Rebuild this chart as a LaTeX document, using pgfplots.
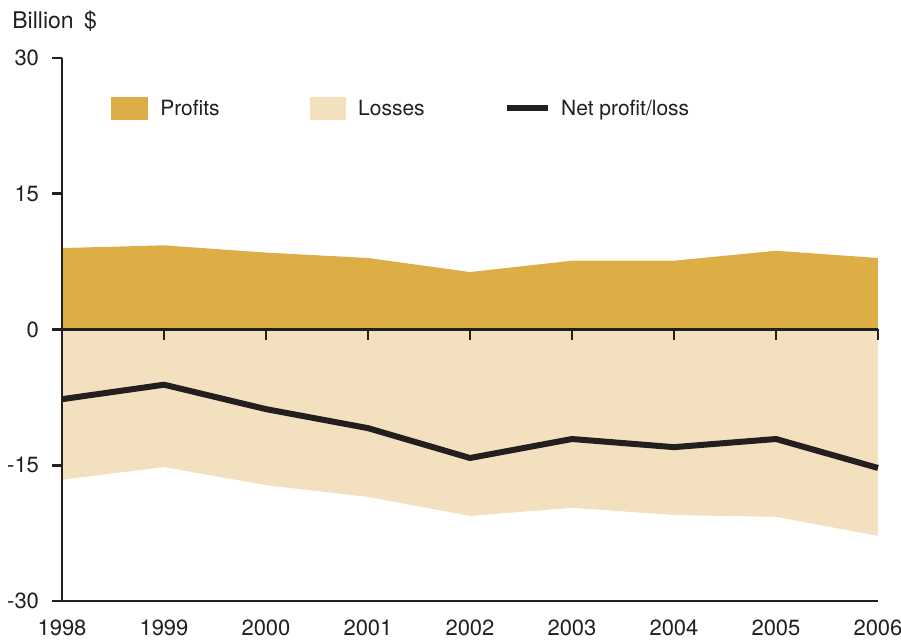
\documentclass[border=0pt]{standalone}
\usepackage{pgfplots}
\pgfplotsset{compat=1.18}
\usepackage{fontspec}
\setmainfont{TeX Gyre Heros}
\definecolor{profit}{HTML}{DDAE45}
\definecolor{loss}{HTML}{F3E0BE}
\definecolor{netc}{HTML}{231F20}
\begin{document}
\begin{tikzpicture}
\path[use as bounding box] (-31bp,-19.5bp) rectangle (419.5bp,300.5bp);
\node[anchor=base west,font=\fontsize{11.5bp}{13bp}\selectfont,text=netc,inner sep=0] at (-25bp,286bp) {Billion\hspace{0.45em}\$};
\begin{axis}[at={(0,0)}, anchor=south west, scale only axis,
  width=408bp, height=271.5bp,
  xmin=1998, xmax=2006, ymin=-30, ymax=30,
  axis lines=left,
  axis line style={line width=1.4bp, -, draw=netc},
  axis on top,
  xtick={1998,1999,2000,2001,2002,2003,2004,2005,2006},
  xticklabels={1998,1999,2000,2001,2002,2003,2004,2005,2006},
  x tick style={draw=none},
  ytick={-30,-15,0,15,30},
  yticklabels={-30,-15,0,15,30},
  y tick style={line width=1.4bp, draw=netc},
  tick align=outside,
  major tick length=5bp,
  tick label style={font=\fontsize{11bp}{13bp}\selectfont, text=netc},
  xticklabel style={yshift=-1bp},
  yticklabel style={xshift=-3bp},
  clip=false,
]
\addplot[fill=profit, draw=none] coordinates {(1998,0) (1998,9.0) (1999,9.3) (2000,8.5) (2001,7.9) (2002,6.35) (2003,7.6) (2004,7.6) (2005,8.7) (2006,7.9) (2006,0)} -- cycle;
\addplot[fill=loss, draw=none] coordinates {(1998,0) (1998,-16.6) (1999,-15.2) (2000,-17.2) (2001,-18.5) (2002,-20.6) (2003,-19.7) (2004,-20.5) (2005,-20.7) (2006,-22.8) (2006,0)} -- cycle;
\addplot[line width=3bp, draw=netc, line join=round] coordinates {(1998,-7.7) (1999,-6.1) (2000,-8.8) (2001,-10.9) (2002,-14.2) (2003,-12.1) (2004,-13.0) (2005,-12.1) (2006,-15.3)};
\draw[line width=1.4bp, netc] (axis cs:1998,0) -- (axis cs:2006,0);
\pgfplotsinvokeforeach{1999,2000,2001,2002,2003,2004,2005,2006}{
  \draw[line width=1.4bp, netc] (axis cs:#1,0) -- (axis cs:#1,-1.2);
}
% legend
\fill[profit] (axis cs:1998.48,25.7) rectangle (axis cs:1998.84,23.15);
\node[anchor=base west,inner sep=0,font=\fontsize{10.5bp}{12bp}\selectfont,text=netc] at (axis cs:1998.96,23.6) {Profits};
\fill[loss] (axis cs:2000.43,25.7) rectangle (axis cs:2000.78,23.15);
\node[anchor=base west,inner sep=0,font=\fontsize{10.5bp}{12bp}\selectfont,text=netc] at (axis cs:2000.90,23.6) {Losses};
\draw[line width=3bp, netc] (axis cs:2002.36,24.45) -- (axis cs:2002.76,24.45);
\node[anchor=base west,inner sep=0,font=\fontsize{10.5bp}{12bp}\selectfont,text=netc] at (axis cs:2002.89,23.6) {Net profit/loss};
\end{axis}
\end{tikzpicture}
\end{document}
